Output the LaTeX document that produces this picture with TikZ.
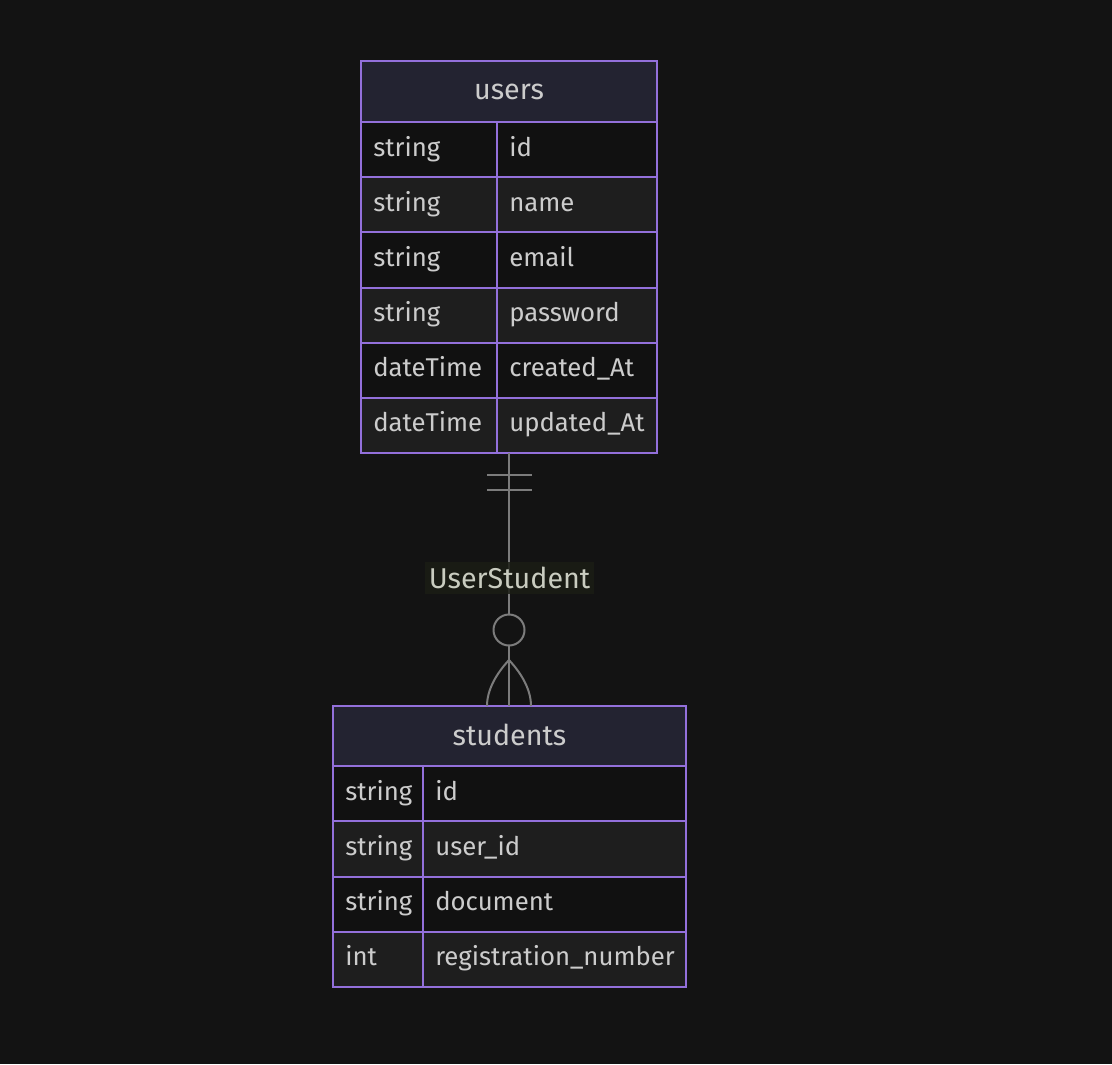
\documentclass[tikz,border=0pt]{standalone}
\usepackage{fontspec}
\setmainfont{Fira Sans}
\usetikzlibrary{fit}
\definecolor{bgc}{HTML}{131313}
\definecolor{rowA}{HTML}{111111}
\definecolor{rowB}{HTML}{1E1E1E}
\definecolor{headc}{HTML}{232331}
\definecolor{borderc}{HTML}{9370DB}
\definecolor{txtc}{HTML}{CCCCCC}
\definecolor{linec}{HTML}{7C7C7C}
\definecolor{lblbg}{HTML}{1B1D15}
\definecolor{lbltxt}{HTML}{C9CCC0}
\begin{document}
\begin{tikzpicture}[x=0.75pt,y=-0.75pt,
  cellbox/.style={draw=borderc, line width=1.5pt, inner sep=0pt, rectangle},
  tablebox/.style={draw=borderc, line width=1.5pt, inner sep=0pt, rectangle},
  celltxt/.style={text=txtc, inner sep=0pt, anchor=mid west, font=\fontsize{19.3}{22}\selectfont},
  headtxt/.style={text=txtc, inner sep=0pt, font=\fontsize{21.5}{25}\selectfont},
  conn/.style={draw=linec, line width=1.5pt},
  rellabel/.style={fill=lblbg, fill opacity=0.85, text opacity=1, text=lbltxt, inner xsep=3pt, inner ysep=4pt, font=\fontsize{21.5}{25}\selectfont}
]
\fill[bgc] (0,0) rectangle (1112,1064);
\useasboundingbox (0,0) rectangle (1112,1064);

% ---------- users ----------
\node[cellbox, fill=headc, fit={(361,61) (657,122)}] (uhead) {};
\node[headtxt] (uheadtxt) at (509,92) {users};
\foreach \t/\a [count=\k] in {string/id,string/name,string/email,string/password,dateTime/created\_At,dateTime/updated\_At}{
  \pgfmathsetmacro\ya{122+(\k-1)*55.17}
  \pgfmathsetmacro\yb{\ya+55.17}
  \ifodd\k\relax\def\rf{rowA}\else\def\rf{rowB}\fi
  \node[cellbox, fill=\rf, fit={(361,\ya) (497,\yb)}] (ut\k) {};
  \node[cellbox, fill=\rf, fit={(497,\ya) (657,\yb)}] (ua\k) {};
  \node[celltxt] (utt\k) at ([xshift=9.75pt,yshift=-2.25pt]ut\k.west) {\t};
  \node[celltxt] (uat\k) at ([xshift=9.75pt,yshift=-2.25pt]ua\k.west) {\a};
}
\node[tablebox, fit={(361,61) (657,453)}] (users) {};

% ---------- students ----------
\node[cellbox, fill=headc, fit={(333,706) (686,766)}] (shead) {};
\node[headtxt] (sheadtxt) at (509.5,735) {students};
\foreach \t/\a [count=\k] in {string/id,string/user\_id,string/document,int/registration\_number}{
  \pgfmathsetmacro\ya{766+(\k-1)*55.25}
  \pgfmathsetmacro\yb{\ya+55.25}
  \ifodd\k\relax\def\rf{rowA}\else\def\rf{rowB}\fi
  \node[cellbox, fill=\rf, fit={(333,\ya) (423,\yb)}] (st\k) {};
  \node[cellbox, fill=\rf, fit={(423,\ya) (686,\yb)}] (sa\k) {};
  \node[celltxt] (stt\k) at ([xshift=9.75pt,yshift=-2.25pt]st\k.west) {\t};
  \node[celltxt] (sat\k) at ([xshift=9.75pt,yshift=-2.25pt]sa\k.west) {\a};
}
\node[tablebox, fit={(333,706) (686,987)}] (students) {};

% ---------- relationship ----------
\coordinate (ra) at (509,453);
\coordinate (rb) at (509,706);
\draw[conn] (ra) -- (rb);
% exactly one (users side)
\draw[conn] (487,475) -- (532,475);
\draw[conn] (487,490) -- (532,490);
% zero or many (students side)
\node[draw=linec, line width=1.5pt, circle, minimum size=31*0.75pt, inner sep=0pt, fill=bgc] (zc) at (509,630) {};
\draw[conn] (509,660) .. controls (496,674) and (487,690) .. (487,706);
\draw[conn] (509,660) .. controls (522,674) and (531,690) .. (531,706);
\node[rellabel] (rel) at (509.5,578) {UserStudent};
\end{tikzpicture}
\end{document}
